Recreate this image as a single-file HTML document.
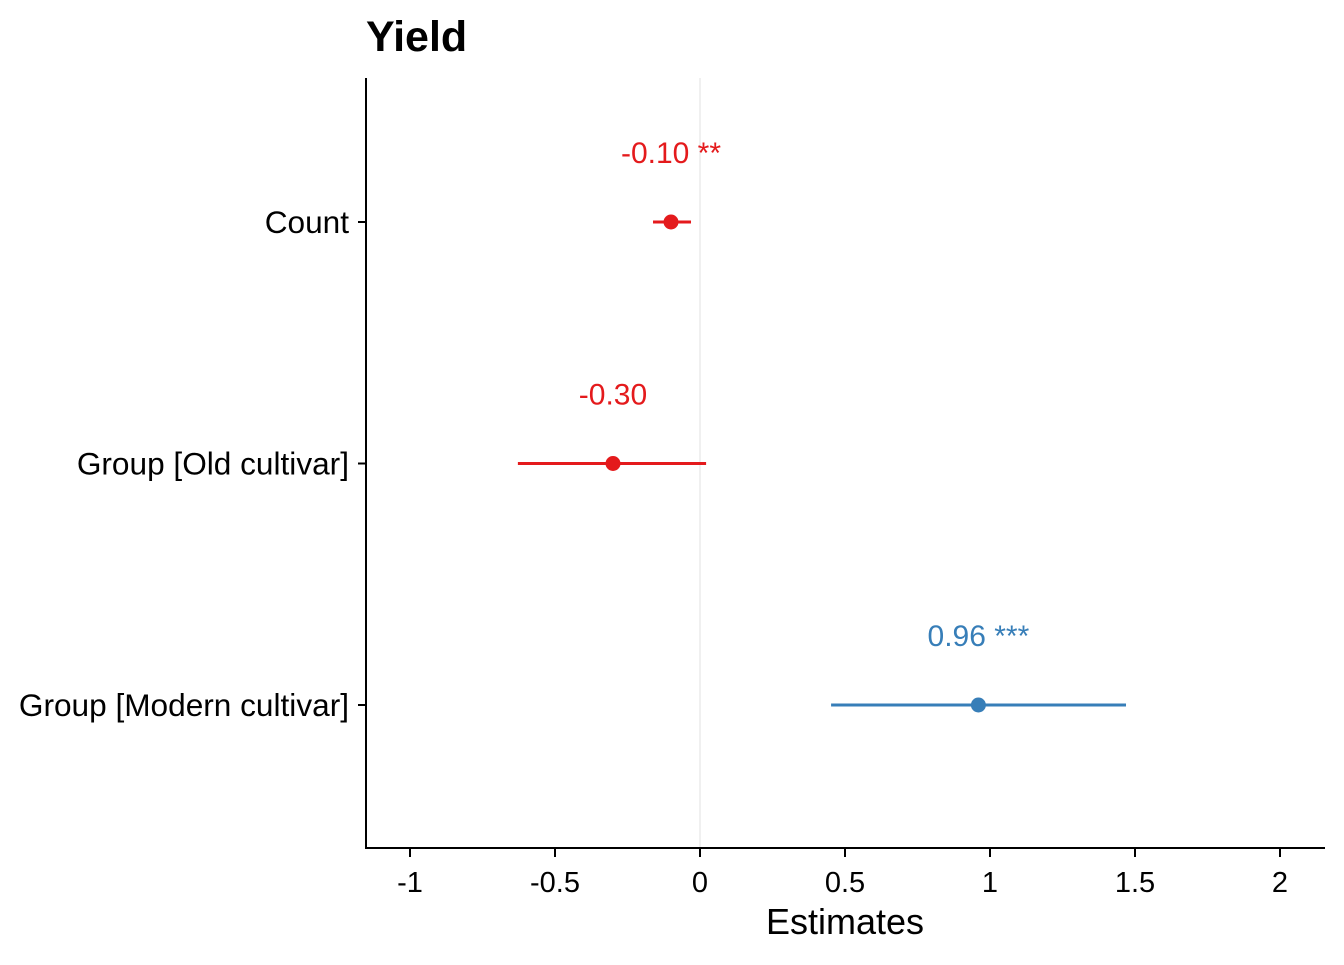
<!DOCTYPE html>
<html><head><meta charset="utf-8">
<style>
html,body{margin:0;padding:0;background:#fff;}
svg text{font-family:"Liberation Sans",Arial,sans-serif;}
</style></head>
<body>
<svg id="chart" width="1344" height="960" viewBox="0 0 1344 960" xmlns="http://www.w3.org/2000/svg">
<text x="366" y="51" font-size="43" font-weight="bold" fill="#000">Yield</text>
<g id="plot"></g>
</svg>
<script>
const terms = ["Count", "Group [Old cultivar]", "Group [Modern cultivar]"];
const estimates = [-0.10, -0.30, 0.96];
const ciLow = [-0.162, -0.628, 0.452];
const ciHigh = [-0.031, 0.021, 1.469];
const labels = ["-0.10 **", "-0.30", "0.96 ***"];
const xTicks = [-1, -0.5, 0, 0.5, 1, 1.5, 2];
const xTickLabels = ["-1", "-0.5", "0", "0.5", "1", "1.5", "2"];

const NS = "http://www.w3.org/2000/svg";
const g = document.getElementById("plot");
const X = v => 700 + v * 290;
const Y = i => 222 + i * 241.5;
const red = "#E41A1C", blue = "#377EB8";
function mk(tag, attrs, parent) {
  const e = document.createElementNS(NS, tag);
  for (const k in attrs) e.setAttribute(k, attrs[k]);
  (parent || g).appendChild(e);
  return e;
}
let zl = mk("line", {x1: X(0), x2: X(0), y1: 78, y2: 848, stroke: "#e6e6e6", "stroke-width": 1.2});


let ya = mk("line", {x1: 366, x2: 366, y1: 78, y2: 849, stroke: "#000", "stroke-width": 2});


let xa = mk("line", {x1: 365, x2: 1325, y1: 848, y2: 848, stroke: "#000", "stroke-width": 2});


xTicks.forEach((t, i) => {
  let tk = mk("line", {x1: X(t), x2: X(t), y1: 849, y2: 857, stroke: "#000", "stroke-width": 2});
  
  
  let tl = mk("text", {x: X(t), y: 892, "text-anchor": "middle", "font-size": 29, fill: "#000"});
  tl.textContent = xTickLabels[i];
  
  
});
let xt = mk("text", {x: 845, y: 934, "text-anchor": "middle", "font-size": 36, fill: "#000"});
xt.textContent = "Estimates";


terms.forEach((term, i) => {
  const y = Y(i);
  const col = estimates[i] < 0 ? red : blue;
  let tk = mk("line", {x1: 358, x2: 366, y1: y, y2: y, stroke: "#000", "stroke-width": 2});
  
  
  let tl = mk("text", {x: 349, y: y + 11, "text-anchor": "end", "font-size": 31.6, fill: "#000"});
  tl.textContent = term;
  
  
  let ci = mk("line", {x1: X(ciLow[i]), x2: X(ciHigh[i]), y1: y, y2: y, stroke: col, "stroke-width": 3});
  
  
  let pt = mk("circle", {cx: X(estimates[i]), cy: y, r: 7.5, fill: col});
  
  
  let vl = mk("text", {x: X(estimates[i]), y: y - 59, "text-anchor": "middle", "font-size": 30, fill: col});
  vl.textContent = labels[i];
  
  
});
</script>
</body></html>
